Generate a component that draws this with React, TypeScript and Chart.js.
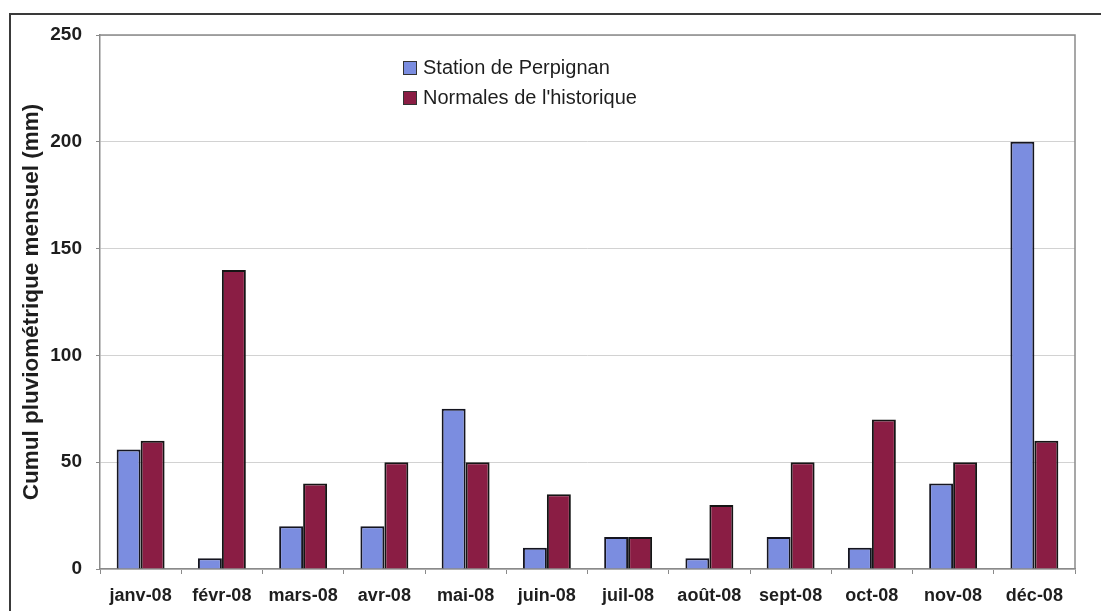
import React, { useEffect, useRef } from "react";
import { Chart, registerables } from "chart.js";

Chart.register(...registerables);

const months = ["janv-08", "févr-08", "mars-08", "avr-08", "mai-08", "juin-08", "juil-08", "août-08", "sept-08", "oct-08", "nov-08", "déc-08"];
const perpignan = [56, 5, 20, 20, 75, 10, 15, 5, 15, 10, 40, 200];
const normales = [60, 140, 40, 50, 50, 35, 15, 30, 50, 70, 50, 60];
const seriesNames = ["Station de Perpignan", "Normales de l'historique"];
const yTitle = "Cumul pluviométrique mensuel (mm)";

const BLUE = "#7b8de0";
const RED = "#8a1d44";

const framePlugin = {
  id: "frame",
  afterDraw(chart: any) {
    const { ctx, chartArea } = chart;
    ctx.save();
    // outer frame
    ctx.strokeStyle = "#3a3a3a";
    ctx.lineWidth = 2;
    ctx.beginPath();
    ctx.moveTo(10, 611);
    ctx.lineTo(10, 14);
    ctx.lineTo(1101, 14);
    ctx.stroke();
    // plot area border
    ctx.strokeStyle = "#8a8a8a";
    ctx.lineWidth = 1.5;
    ctx.beginPath();
    ctx.moveTo(chartArea.left, chartArea.top);
    ctx.lineTo(chartArea.right, chartArea.top);
    ctx.lineTo(chartArea.right, chartArea.bottom);
    ctx.stroke();
    // legend
    const ds = chart.data.datasets;
    const rows = [68, 98];
    ds.forEach((d: any, i: number) => {
      const y = rows[i];
      ctx.fillStyle = d.backgroundColor;
      ctx.fillRect(403, y - 7, 14, 14);
      ctx.strokeStyle = "#333";
      ctx.lineWidth = 1;
      ctx.strokeRect(403.5, y - 6.5, 13, 13);
      ctx.fillStyle = "#1e1e1e";
      ctx.font = "20px Arial, 'Liberation Sans', sans-serif";
      ctx.textBaseline = "middle";
      ctx.textAlign = "left";
      ctx.fillText(d.label, 423, y);
    });
    ctx.restore();
  },
};

export default function App() {
  const ref = useRef<HTMLCanvasElement | null>(null);
  useEffect(() => {
    if (!ref.current) return;
    const chart = new Chart(ref.current, {
      type: "bar",
      data: {
        labels: months,
        datasets: [
          {
            label: seriesNames[0],
            data: perpignan,
            backgroundColor: BLUE,
            borderColor: "#151520",
            borderWidth: 2,
            categoryPercentage: 0.59,
            barPercentage: 1.0,
          },
          {
            label: seriesNames[1],
            data: normales,
            backgroundColor: RED,
            borderColor: "#151515",
            borderWidth: 2,
            categoryPercentage: 0.59,
            barPercentage: 1.0,
          },
        ],
      },
      options: {
        animation: false,
        responsive: false,
        maintainAspectRatio: false,
        layout: { padding: { top: 35, right: 26, left: 0, bottom: 0 } },
        plugins: {
          legend: { display: false },
          tooltip: { enabled: false },
        },
        scales: {
          x: {
            offset: true,
            grid: {
              display: true,
              offset: true,
              drawOnChartArea: false,
              drawTicks: true,
              tickLength: 5,
              color: "#8a8a8a",
            },
            border: { display: true, color: "#8a8a8a", width: 1.5 },
            ticks: {
              color: "#1e1e1e",
              font: { family: "Arial, 'Liberation Sans', sans-serif", size: 18, weight: "bold" },
              padding: 11,
              maxRotation: 0,
              autoSkip: false,
            },
            afterFit(s: any) {
              s.height = 42;
            },
          },
          y: {
            min: 0,
            max: 250,
            ticks: {
              stepSize: 50,
              color: "#1e1e1e",
              font: { family: "Arial, 'Liberation Sans', sans-serif", size: 19, weight: "bold" },
              padding: 14,
            },
            grid: {
              color: "#d2d2d2",
              lineWidth: 1,
              tickLength: 4,
              tickColor: "#8a8a8a",
            },
            border: { display: true, color: "#8a8a8a", width: 1.5 },
            title: {
              display: true,
              text: yTitle,
              color: "#1e1e1e",
              font: { family: "Arial, 'Liberation Sans', sans-serif", size: 22.5, weight: "bold" },
              padding: { top: 18, bottom: 0 },
            },
            afterFit(s: any) {
              s.width = 100;
            },
          },
        },
      },
      plugins: [framePlugin],
    });
    return () => chart.destroy();
  }, []);
  return (
    <div style={{ position: "fixed", left: 0, top: 0, width: 1101, height: 611, background: "#fff" }}>
      <canvas ref={ref} width={1101} height={611} style={{ width: 1101, height: 611 }} />
    </div>
  );
}
